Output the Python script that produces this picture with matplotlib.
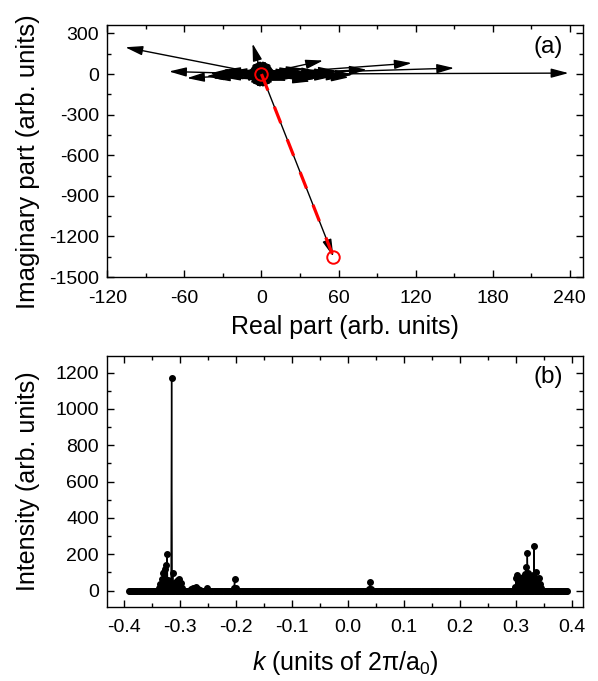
import numpy as np
import matplotlib
matplotlib.use('Agg')
import matplotlib.pyplot as plt
from matplotlib.ticker import MultipleLocator

plt.rcParams['font.family'] = ['Liberation Sans', 'DejaVu Sans']
plt.rcParams['mathtext.fontset'] = 'custom'
plt.rcParams['mathtext.rm'] = 'Liberation Sans'
plt.rcParams['mathtext.it'] = 'Liberation Sans:italic'
plt.rcParams['axes.unicode_minus'] = False

# (a) phasor contributions: real / imaginary parts of each arrow tip
re_parts = [239, 150, 117, 82, 48, 71, 64, 55, 60, 45, 40, 30, 25, 35, 20, 15, 10,
            -106, -7, -72, -58, -43, -34, -25, -20, -15, -28, -18, -10, 5, -5, 8, -8,
            12, 28, 42, 65, 6, -6, 3, 50, 22, 68, 58, 38, -38, -30, 33, 18, -12,
            7, -7, 9, -9, 4, -4, 2, -2, 10, -10, 6, -6,
            5, 4, 2, 0, -2, -4, -5, -4, -2, 0, 2, 4,
            30, 45, 55, -30, -40, 20, 38]
im_parts = [7, 44, 81, 32, 100, -5, -17, 10, 0, 20, -25, -20, 15, 5, -30, 25, -15,
            198, 226, 19, -30, -17, -5, 20, 15, -20, -10, -35, 10, 30, -25, -40, 40,
            8, 30, -35, -10, 60, -60, 5, -15, -5, -25, 25, -40, -30, 30, 40, -45, -45,
            70, 70, -70, -70, 80, -80, 75, -75, 20, -20, 50, -50,
            0, 25, 40, 45, 40, 25, 0, -25, -40, -45, -40, -25,
            -10, -5, -20, -25, 5, -50, -55]
sum_re = 56
sum_im = -1350

# (b) intensity spectrum: peak points sitting on a flat zero baseline
k_peak = [-0.337, -0.335, -0.333, -0.331, -0.329, -0.327, -0.325, -0.323, -0.321,
          -0.319, -0.317, -0.315, -0.313, -0.311, -0.309, -0.307, -0.305, -0.303,
          -0.301, -0.299, -0.297, -0.280, -0.276, -0.272, -0.268, -0.264, -0.252,
          -0.204, -0.202, -0.200,
          0.038, 0.040, 0.042,
          0.299, 0.301, 0.303, 0.305, 0.307, 0.309, 0.311, 0.313, 0.315, 0.317,
          0.319, 0.321, 0.323, 0.325, 0.327, 0.329, 0.331, 0.333, 0.335, 0.337,
          0.339, 0.341, 0.343, 0.345]
i_peak = [15, 35, 64, 96, 105, 118, 140, 200, 60, 45, 30, 1172, 96, 40, 25, 45, 55,
          59, 64, 40, 15, 8, 15, 18, 10, 6, 13,
          15, 64, 12,
          10, 46, 10,
          20, 68, 86, 70, 50, 40, 60, 75, 55, 90, 132, 206, 96, 80, 60, 70, 85,
          248, 60, 105, 50, 68, 35, 15]
k_start, k_stop, k_step = -0.392, 0.392, 0.002

fig = plt.figure(figsize=(5.98, 6.81), dpi=100)
ax1 = fig.add_axes([0.1794, 0.5932, 0.795, 0.3696])
ax2 = fig.add_axes([0.1794, 0.1087, 0.795, 0.3686])

# ---- panel (a)
arrow = dict(arrowstyle='-|>,head_length=0.75,head_width=0.2', mutation_scale=14,
             color='black', lw=1.0, shrinkA=0, shrinkB=0)
for x, y in zip(re_parts, im_parts):
    ax1.annotate('', xy=(x, y), xytext=(0, 0), arrowprops=arrow)
ax1.annotate('', xy=(sum_re, sum_im), xytext=(0, 0), arrowprops=arrow)
ax1.plot([0, sum_re], [0, sum_im], color='red', lw=2.3, ls=(0, (5.5, 5.5)), zorder=5)
ax1.plot([0, sum_re], [0, sum_im], 'o', ms=9, mfc='none', mec='red', mew=1.4, zorder=6)

ax1.set_xlim(-120, 250)
ax1.set_ylim(-1500, 360)
ax1.xaxis.set_major_locator(MultipleLocator(60))
ax1.xaxis.set_minor_locator(MultipleLocator(30))
ax1.yaxis.set_major_locator(MultipleLocator(300))
ax1.yaxis.set_minor_locator(MultipleLocator(150))
ax1.set_xlabel('Real part (arb. units)', fontsize=18, va='center')
ax1.set_ylabel('Imaginary part (arb. units)', fontsize=18.5, va='center')
ax1.xaxis.set_label_coords(0.5, -0.2)
ax1.yaxis.set_label_coords(-0.166, 0.46)
ax1.text(0.927, 0.914, '(a)', transform=ax1.transAxes, fontsize=17.5,
         ha='center', va='center')

# ---- panel (b)
k_base = np.arange(k_start, k_stop + k_step / 2, k_step)
k_all = np.concatenate([k_base, k_peak])
i_all = np.concatenate([np.zeros(len(k_base)), i_peak])
order = np.argsort(k_all, kind='stable')
ax2.plot(k_all[order], i_all[order], '-o', color='black', lw=1.0, ms=4.0)

ax2.set_xlim(-0.43, 0.42)
ax2.set_ylim(-90, 1292)
ax2.xaxis.set_major_locator(MultipleLocator(0.1))
ax2.xaxis.set_minor_locator(MultipleLocator(0.05))
ax2.yaxis.set_major_locator(MultipleLocator(200))
ax2.yaxis.set_minor_locator(MultipleLocator(100))
ax2.xaxis.set_major_formatter(plt.FuncFormatter(lambda v, p: f'{v:.1f}'.replace('-0.0', '0.0')))
ax2.set_xlabel('$k$ (units of 2π/a$_0$)', fontsize=18, va='center')
ax2.set_ylabel('Intensity (arb. units)', fontsize=18, va='center')
ax2.xaxis.set_label_coords(0.5, -0.225)
ax2.yaxis.set_label_coords(-0.166, 0.5)
ax2.text(0.927, 0.916, '(b)', transform=ax2.transAxes, fontsize=17.5,
         ha='center', va='center')

for ax in (ax1, ax2):
    ax.tick_params(which='both', direction='in', top=True, right=True,
                   labelsize=14, width=1.0)
    ax.tick_params(which='major', length=5)
    ax.tick_params(which='minor', length=3)
    ax.tick_params(axis='x', pad=9)
    ax.tick_params(axis='y', pad=6)
    for s in ax.spines.values():
        s.set_linewidth(1.0)

fig.savefig('out.png', dpi=100)
